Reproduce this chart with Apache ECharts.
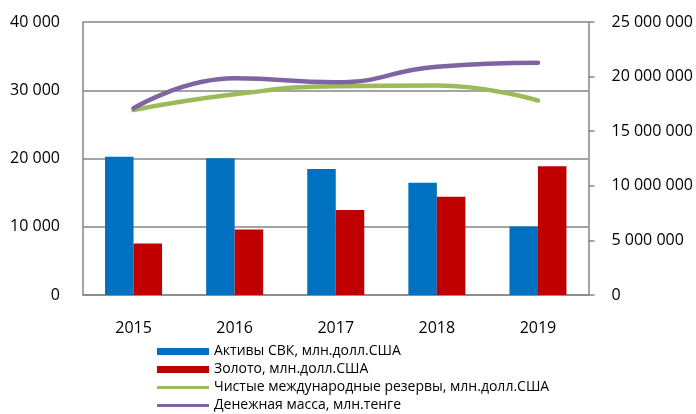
<!DOCTYPE html>
<html><head><meta charset="utf-8">
<script src="https://cdn.jsdelivr.net/npm/echarts@6/dist/echarts.min.js"></script>
<style>html,body{margin:0;padding:0;background:#fff}#c{width:696px;height:414px}</style>
</head><body><div id="c"></div>
<script>
const years = ['2015','2016','2017','2018','2019'];
const assets = [20250, 20050, 18450, 16450, 10050];
const gold = [7550, 9600, 12450, 14400, 18850];
const reserves = [27100, 29400, 30600, 30700, 28500];
const money = [17100000, 19840000, 19480000, 20910000, 21270000];
const leftTicks = [0, 10000, 20000, 30000, 40000];
const rightTicks = [0, 5000000, 10000000, 15000000, 20000000, 25000000];
const names = ['Активы СВК, млн.долл.США','Золото, млн.долл.США','Чистые международные резервы, млн.долл.США','Денежная масса, млн.тенге'];

const FONT = 'Open Sans';
const fmt = v => String(Math.round(v)).replace(/\B(?=(\d{3})+(?!\d))/g, ' ');
const axisGray = '#868686';
const lineIcon = 'path://M0,0L0.01,0L0.01,0.01L0,0.01Z M0,7L0.01,7L0.01,7.01L0,7.01Z M0,2L52,2L52,5L0,5Z M51.99,0L52,0L52,0.01L51.99,0.01Z';
const chart = echarts.init(document.getElementById('c'));
chart.setOption({
  animation: false,
  textStyle: {fontFamily: FONT},
  grid: {left: 83, right: 107, top: 22, bottom: 119, containLabel: false},
  legend: {
    orient: 'vertical', left: 157, top: 344, padding: 0,
    itemWidth: 52, itemHeight: 7, itemGap: 3,
    textStyle: {fontFamily: FONT, fontSize: 14, color: '#000', lineHeight: 15},
    data: [
      {name: names[0], icon: 'rect'},
      {name: names[1], icon: 'rect'},
      {name: names[2], icon: lineIcon, itemStyle: {color: '#9BBB59'}},
      {name: names[3], icon: lineIcon, itemStyle: {color: '#8064A2'}}
    ]
  },
  xAxis: {
    type: 'category', data: years,
    axisLine: {lineStyle: {color: axisGray, width: 1.5}},
    axisTick: {show: false},
    axisLabel: {color: '#000', fontSize: 16, margin: 25, fontFamily: FONT}
  },
  yAxis: [
    {type: 'value', min: leftTicks[0], max: leftTicks[leftTicks.length-1], interval: 10000,
     axisLine: {show: true, lineStyle: {color: axisGray, width: 1.5}},
     axisTick: {show: false},
     splitLine: {lineStyle: {color: axisGray, width: 1.5}},
     axisLabel: {color: '#000', fontSize: 16, margin: 23, formatter: fmt, fontFamily: FONT}},
    {type: 'value', min: rightTicks[0], max: rightTicks[rightTicks.length-1], interval: 5000000,
     axisLine: {show: true, lineStyle: {color: axisGray, width: 1.5}},
     axisTick: {show: true, length: 6, lineStyle: {color: axisGray, width: 1.5}},
     splitLine: {show: false},
     axisLabel: {color: '#000', fontSize: 16, margin: 23, formatter: fmt, fontFamily: FONT}}
  ],
  series: [
    {name: names[0], type: 'bar', data: assets, barWidth: 28.5, barGap: '0%', itemStyle: {color: '#0070C0'}},
    {name: names[1], type: 'bar', data: gold, barWidth: 28.5, barGap: '0%', itemStyle: {color: '#C00000'}},
    {name: names[2], type: 'line', data: reserves, smooth: 0.5, showSymbol: false, symbol: 'none',
     lineStyle: {color: '#9BBB59', width: 4.5, cap: 'round'}, itemStyle: {color: '#9BBB59'}},
    {name: names[3], type: 'line', yAxisIndex: 1, data: money, smooth: 0.5, showSymbol: false, symbol: 'none',
     lineStyle: {color: '#8064A2', width: 4.5, cap: 'round'}, itemStyle: {color: '#8064A2'}}
  ]
});
</script></body></html>
